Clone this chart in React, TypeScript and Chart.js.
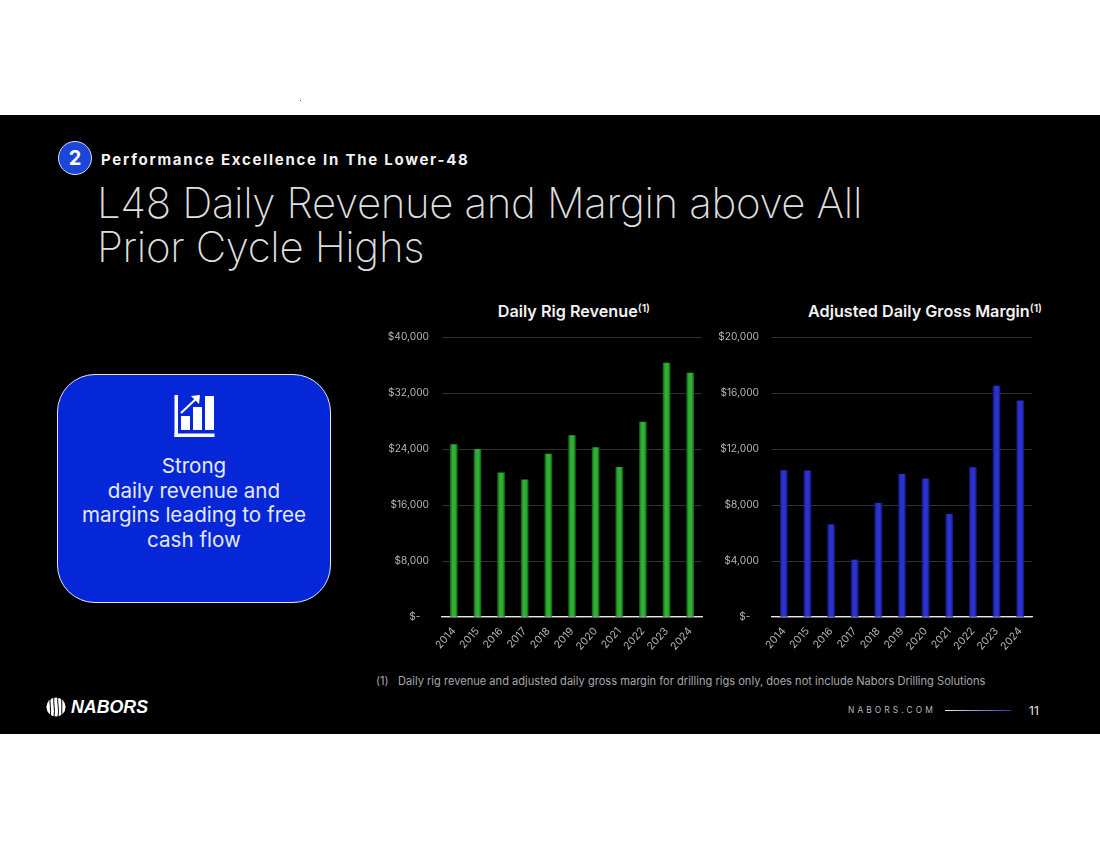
import React, { useEffect, useRef } from "react";
import { Chart, registerables } from "chart.js";

Chart.register(...registerables);

const years = ["2014", "2015", "2016", "2017", "2018", "2019", "2020", "2021", "2022", "2023", "2024"];
const dailyRigRevenue = [24650, 23980, 20600, 19600, 23270, 25940, 24220, 21400, 27840, 36280, 34850];
const dailyGrossMargin = [10465, 10440, 6600, 4076, 8130, 10200, 9870, 7340, 10680, 16500, 15450];
const revenueMax = 40000;
const revenueStep = 8000;
const marginMax = 20000;
const marginStep = 4000;

const FONT = "Inter, 'Noto Sans', sans-serif";

function BarChart(props: {
  values: number[];
  max: number;
  step: number;
  label: string;
  edge: string;
  mid: string;
  left: number;
  width: number;
}) {
  const ref = useRef<HTMLCanvasElement | null>(null);
  useEffect(() => {
    if (!ref.current) return;
    const barW = 7;
    const chart = new Chart(ref.current, {
      type: "bar",
      data: {
        labels: years,
        datasets: [
          {
            label: props.label,
            data: props.values,
            barThickness: barW,
            backgroundColor: (c: any) => {
              const sx = c.chart.scales?.x;
              if (!sx || c.dataIndex === undefined) return props.mid;
              const px = sx.getPixelForValue(c.dataIndex);
              if (!Number.isFinite(px)) return props.mid;
              const g = c.chart.ctx.createLinearGradient(px - barW / 2, 0, px + barW / 2, 0);
              g.addColorStop(0, props.edge);
              g.addColorStop(0.3, props.mid);
              g.addColorStop(0.7, props.mid);
              g.addColorStop(1, props.edge);
              return g;
            },
          },
        ],
      },
      options: {
        responsive: false,
        animation: false,
        devicePixelRatio: 1,
        layout: { padding: { top: 6, right: 8, left: 0, bottom: 0 } },
        plugins: { legend: { display: false }, title: { display: false }, tooltip: { enabled: false } },
        scales: {
          x: {
            afterFit: (a: any) => {
              a.height = 48;
            },
            grid: { display: false },
            border: { color: "#e8e8e8", width: 1.2 },
            ticks: {
              color: "#b4b4b4",
              font: { family: FONT, size: 10.5 },
              minRotation: 48,
              maxRotation: 48,
              padding: 0,
            },
          },
          y: {
            min: 0,
            max: props.max,
            afterFit: (a: any) => {
              a.width = 72;
            },
            border: { display: false },
            grid: {
              drawTicks: false,
              color: "#333333",
              lineWidth: 1,
            },
            ticks: {
              stepSize: props.step,
              color: "#b4b4b4",
              padding: 13,
              font: { family: FONT, size: 10.2 },
              callback: (v: any) => (Number(v) === 0 ? "$-   " : "$" + Number(v).toLocaleString("en-US")),
            },
          },
        },
      },
    });
    return () => chart.destroy();
  }, []);
  return (
    <canvas
      ref={ref}
      width={props.width}
      height={347}
      style={{ position: "absolute", left: props.left, top: 318, width: props.width, height: 347 }}
    />
  );
}

const abs = (left: number, top: number, extra: React.CSSProperties = {}): React.CSSProperties => ({
  position: "absolute",
  left,
  top,
  fontFamily: FONT,
  whiteSpace: "nowrap",
  ...extra,
});

function ChartTitle(props: { text: string; rightEdge: number }) {
  return (
    <div
      style={abs(0, 301, {
        left: "auto",
        right: 1100 - props.rightEdge,
        color: "#f2f2f2",
        fontSize: 16.2,
        fontWeight: 600,
        lineHeight: "20px",
      })}
    >
      {props.text}
      <sup style={{ fontSize: 10.5, lineHeight: 0, verticalAlign: "baseline", position: "relative", top: -5 }}>(1)</sup>
    </div>
  );
}

export default function App() {
  return (
    <div style={{ position: "absolute", left: 0, top: 0, width: 1100, height: 849, background: "#fff", overflow: "hidden" }}>
      <div style={{ position: "absolute", left: 300, top: 100, width: 1, height: 1, background: "#444" }} />
      <div style={{ position: "absolute", left: 0, top: 115, width: 1100, height: 619, background: "#000" }} />

      <div
        style={abs(58, 141, {
          width: 32,
          height: 32,
          borderRadius: "50%",
          background: "#1c46d8",
          border: "1px solid #d5dcf5",
          color: "#fff",
          fontWeight: 700,
          fontSize: 20,
          lineHeight: "32px",
          textAlign: "center",
        })}
      >
        2
      </div>
      <div style={abs(101, 151, { color: "#f2f2f2", fontWeight: 700, fontSize: 15, letterSpacing: 1.74, lineHeight: "18px" })}>
        Performance Excellence In The Lower-48
      </div>
      <div style={abs(97, 181, { color: "#dedede", fontWeight: 200, fontSize: 42, letterSpacing: -0.35, lineHeight: "44px" })}>
        L48 Daily Revenue and Margin above All
        <br />
        Prior Cycle Highs
      </div>

      <div
        style={{
          position: "absolute",
          left: 57,
          top: 374,
          width: 272,
          height: 227,
          borderRadius: 38,
          background: "#0527d8",
          border: "1px solid #e4e6f2",
        }}
      />
      <svg style={{ position: "absolute", left: 174, top: 395 }} width={42} height={44} viewBox="0 0 42 44">
        <g fill="#fff">
          <rect x="0.5" y="0" width="3.5" height="42" />
          <rect x="0.5" y="38.5" width="40" height="3.5" />
          <rect x="7" y="21" width="9" height="14" />
          <rect x="19" y="12" width="9" height="23" />
          <rect x="31" y="1" width="9" height="34" />
        </g>
        <path d="M7 18 L24 2" stroke="#fff" strokeWidth="2" fill="none" />
        <path d="M17 1 L26 0 L25 9 Z" fill="#fff" />
      </svg>
      <div
        style={abs(57, 454, {
          width: 274,
          textAlign: "center",
          color: "#e6e9fb",
          fontSize: 20.6,
          fontWeight: 400,
          lineHeight: "24.5px",
        })}
      >
        Strong
        <br />
        daily revenue and
        <br />
        margins leading to free
        <br />
        cash flow
      </div>

      <ChartTitle text="Daily Rig Revenue" rightEdge={650} />
      <ChartTitle text="Adjusted Daily Gross Margin" rightEdge={1042} />

      <BarChart values={dailyRigRevenue} max={revenueMax} step={revenueStep} label="Daily Rig Revenue" edge="#14601a" mid="#2fb032" left={370} width={340} />
      <BarChart values={dailyGrossMargin} max={marginMax} step={marginStep} label="Adjusted Daily Gross Margin" edge="#16197c" mid="#2c32cf" left={700} width={340} />

      <div style={abs(376, 674, { color: "#a8a8a8", fontSize: 11.1, lineHeight: "14px" })}>
        (1)&nbsp;&nbsp; Daily rig revenue and adjusted daily gross margin for drilling rigs only, does not include Nabors Drilling Solutions
      </div>

      <svg style={{ position: "absolute", left: 46, top: 697 }} width={20} height={20} viewBox="0 0 20 20">
        <circle cx="10" cy="10" r="9.6" fill="#fff" />
        <g stroke="#000" strokeWidth="1" fill="none">
          <path d="M4.2 0 C3.2 6 5.5 12 4.2 20" />
          <path d="M8 0 C6.8 6 9.5 12 8 20" />
          <path d="M12 0 C10.8 6 13.5 10 12 20" />
          <path d="M15.8 0 V20" />
        </g>
      </svg>
      <div style={abs(71, 697, { color: "#fff", fontSize: 17.8, fontWeight: 800, fontStyle: "italic", lineHeight: "20px", fontFamily: "'Liberation Sans', Arial, sans-serif" })}>
        NABORS
      </div>

      <div style={abs(848, 705, { color: "#b8b8b8", fontSize: 8.4, letterSpacing: 3.1, lineHeight: "11px" })}>NABORS.COM</div>
      <div style={{ position: "absolute", left: 945, top: 710, width: 66, height: 1, background: "linear-gradient(90deg,#eeeeee,#2b35c8)" }} />
      <div style={abs(1029, 704, { color: "#e8e8e8", fontSize: 12, lineHeight: "14px" })}>11</div>
    </div>
  );
}
